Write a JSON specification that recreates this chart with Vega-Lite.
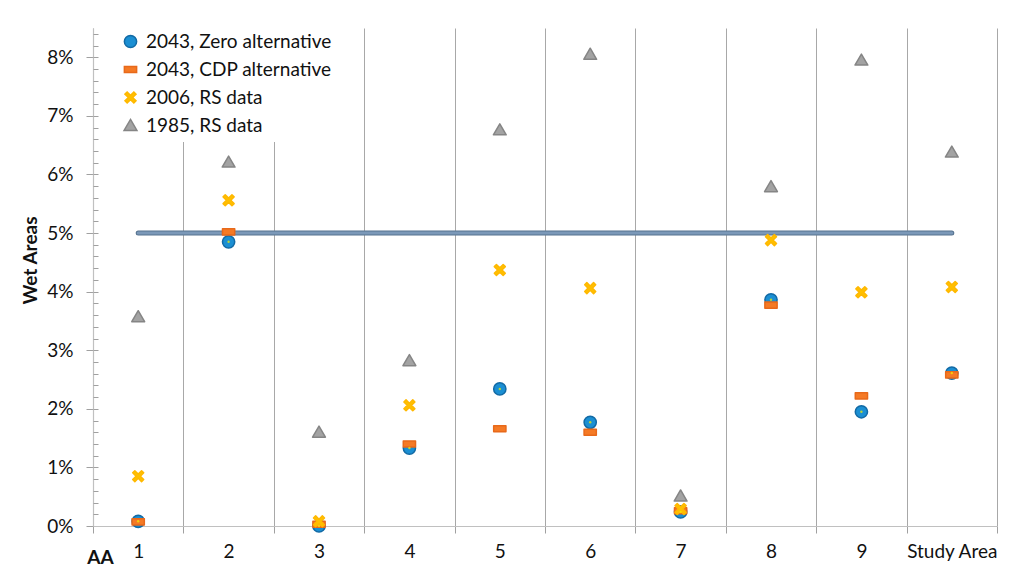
{
  "$schema": "https://vega.github.io/schema/vega-lite/v6.json",
  "width": 904,
  "height": 498,
  "autosize": {"type": "none"},
  "padding": {"left": 93, "top": 28, "right": 27, "bottom": 62},
  "background": "white",
  "config": {
    "font": "Lato",
    "view": {"stroke": null},
    "legend": {"labelFont": "Lato", "labelFontSize": 19, "labelColor": "#111", "labelLimit": 400}
  },
  "resolve": {"axis": {"y": "independent"}},
  "datasets": {
    "points": [
      {"cat": "1", "series": "2043, Zero alternative", "value": 0.0008},
      {"cat": "2", "series": "2043, Zero alternative", "value": 0.0485},
      {"cat": "3", "series": "2043, Zero alternative", "value": 0.0000},
      {"cat": "4", "series": "2043, Zero alternative", "value": 0.0133},
      {"cat": "5", "series": "2043, Zero alternative", "value": 0.0234},
      {"cat": "6", "series": "2043, Zero alternative", "value": 0.0177},
      {"cat": "7", "series": "2043, Zero alternative", "value": 0.0024},
      {"cat": "8", "series": "2043, Zero alternative", "value": 0.0386},
      {"cat": "9", "series": "2043, Zero alternative", "value": 0.0195},
      {"cat": "Study Area", "series": "2043, Zero alternative", "value": 0.0261},
      {"cat": "1", "series": "2043, CDP alternative", "value": 0.0007},
      {"cat": "2", "series": "2043, CDP alternative", "value": 0.0502},
      {"cat": "3", "series": "2043, CDP alternative", "value": 0.0003},
      {"cat": "4", "series": "2043, CDP alternative", "value": 0.0140},
      {"cat": "5", "series": "2043, CDP alternative", "value": 0.0166},
      {"cat": "6", "series": "2043, CDP alternative", "value": 0.0160},
      {"cat": "7", "series": "2043, CDP alternative", "value": 0.0026},
      {"cat": "8", "series": "2043, CDP alternative", "value": 0.0377},
      {"cat": "9", "series": "2043, CDP alternative", "value": 0.0222},
      {"cat": "Study Area", "series": "2043, CDP alternative", "value": 0.0258},
      {"cat": "1", "series": "2006, RS data", "value": 0.0085},
      {"cat": "2", "series": "2006, RS data", "value": 0.0556},
      {"cat": "3", "series": "2006, RS data", "value": 0.0008},
      {"cat": "4", "series": "2006, RS data", "value": 0.0206},
      {"cat": "5", "series": "2006, RS data", "value": 0.0437},
      {"cat": "6", "series": "2006, RS data", "value": 0.0406},
      {"cat": "7", "series": "2006, RS data", "value": 0.0029},
      {"cat": "8", "series": "2006, RS data", "value": 0.0488},
      {"cat": "9", "series": "2006, RS data", "value": 0.0399},
      {"cat": "Study Area", "series": "2006, RS data", "value": 0.0408},
      {"cat": "1", "series": "1985, RS data", "value": 0.0357},
      {"cat": "2", "series": "1985, RS data", "value": 0.0621},
      {"cat": "3", "series": "1985, RS data", "value": 0.0160},
      {"cat": "4", "series": "1985, RS data", "value": 0.0282},
      {"cat": "5", "series": "1985, RS data", "value": 0.0676},
      {"cat": "6", "series": "1985, RS data", "value": 0.0805},
      {"cat": "7", "series": "1985, RS data", "value": 0.0051},
      {"cat": "8", "series": "1985, RS data", "value": 0.0579},
      {"cat": "9", "series": "1985, RS data", "value": 0.0795},
      {"cat": "Study Area", "series": "1985, RS data", "value": 0.0638}
    ],
    "target": [{"from": "1", "to": "Study Area", "value": 0.05}]
  },
  "layer": [
    {
      "data": {"name": "points"},
      "mark": {"type": "point", "opacity": 0},
      "encoding": {
        "x": {
          "field": "cat", "type": "nominal",
          "scale": {"domain": ["1","2","3","4","5","6","7","8","9","Study Area"], "paddingInner": 0, "paddingOuter": 0},
          "axis": {
            "title": "AA", "titleFont": "Lato", "titleFontSize": 19, "titleFontWeight": "bold", "titleColor": "#111",
            "titleX": 7, "titleY": 37, "titleAlign": "center", "titleBaseline": "alphabetic",
            "labelAngle": 0, "labelFontSize": 19, "labelColor": "#111", "labelPadding": 9,
            "tickBand": "extent", "grid": true, "gridColor": "#a8a8a8", "gridWidth": 1,
            "domainColor": "#c0c0c0", "domainWidth": 1.2, "tickColor": "#a0a0a0", "tickSize": 7
          }
        },
        "y": {
          "field": "value", "type": "quantitative",
          "scale": {"domain": [0, 0.085], "nice": false, "zero": true},
          "axis": {
            "orient": "left",
            "title": "Wet Areas", "titleFont": "Lato", "titleFontSize": 19, "titleFontWeight": "bold", "titleColor": "#111",
            "titleAngle": 270, "titleX": -63, "titleY": 232, "titleAlign": "center", "titleBaseline": "middle",
            "values": [0, 0.01, 0.02, 0.03, 0.04, 0.05, 0.06, 0.07, 0.08],
            "format": ".0%",
            "labelOverlap": false, "labelFontSize": 19, "labelColor": "#111", "labelPadding": 13,
            "grid": false, "domainColor": "#c0c0c0", "domainWidth": 1.2, "tickColor": "#a0a0a0",
            "tickSize": 7
          }
        }
      }
    },
    {
      "data": {"name": "points"},
      "mark": {"type": "point", "opacity": 0},
      "encoding": {
        "x": {"field": "cat", "type": "nominal"},
        "y": {
          "field": "value", "type": "quantitative",
          "axis": {
            "orient": "left", "title": null, "labels": false, "domain": false, "grid": false,
            "values": [0.002,0.004,0.006,0.008,0.01,0.012,0.014,0.016,0.018,0.02,0.022,0.024,0.026,0.028,0.03,0.032,0.034,0.036,0.038,0.04,0.042,0.044,0.046,0.048,0.05,0.052,0.054,0.056,0.058,0.06,0.062,0.064,0.066,0.068,0.07,0.072,0.074,0.076,0.078,0.08,0.082,0.084],
            "tickColor": "#a0a0a0", "tickSize": 5, "offset": -5
          }
        }
      }
    },
    {
      "data": {"name": "target"},
      "mark": {"type": "rule", "color": "#56728f", "strokeWidth": 5, "strokeCap": "round"},
      "encoding": {
        "x": {"field": "from", "type": "nominal"},
        "x2": {"field": "to"},
        "y": {"field": "value", "type": "quantitative", "axis": null}
      }
    },
    {
      "data": {"name": "target"},
      "mark": {"type": "rule", "color": "#7b98b8", "strokeWidth": 3, "strokeCap": "round"},
      "encoding": {
        "x": {"field": "from", "type": "nominal"},
        "x2": {"field": "to"},
        "y": {"field": "value", "type": "quantitative", "axis": null}
      }
    },
    {
      "data": {"name": "points"},
      "mark": {"type": "point", "filled": true, "size": 150, "strokeWidth": 1.5, "strokeJoin": "round", "opacity": 1},
      "encoding": {
        "x": {"field": "cat", "type": "nominal"},
        "y": {"field": "value", "type": "quantitative", "axis": null},
        "shape": {
          "field": "series", "type": "nominal", "title": null,
          "scale": {
            "domain": ["2043, Zero alternative", "2043, CDP alternative", "2006, RS data", "1985, RS data"],
            "range": ["circle", "M-1,-0.5L1,-0.5L1,0.5L-1,0.5Z", "M-0.9,-0.55L-0.55,-0.9L0,-0.35L0.55,-0.9L0.9,-0.55L0.35,0L0.9,0.55L0.55,0.9L0,0.35L-0.55,0.9L-0.9,0.55L-0.35,0Z", "M0,-1L1.05,0.8L-1.05,0.8Z"]
          },
          "legend": {"orient": "none", "legendX": 22, "legendY": -2, "padding": 6, "fillColor": "white", "rowPadding": 8, "labelOffset": 6, "symbolSize": 150, "labelLimit": 400}
        },
        "fill": {
          "field": "series", "type": "nominal", "title": null,
          "scale": {
            "domain": ["2043, Zero alternative", "2043, CDP alternative", "2006, RS data", "1985, RS data"],
            "range": ["#1b8fd3", "#f57a25", "#ffc000", "#a3a3a3"]
          }
        },
        "stroke": {
          "field": "series", "type": "nominal", "title": null,
          "scale": {
            "domain": ["2043, Zero alternative", "2043, CDP alternative", "2006, RS data", "1985, RS data"],
            "range": ["#126aa5", "#e8691a", "#ffb800", "#858585"]
          }
        }
      }
    },
    {
      "data": {"name": "points"},
      "transform": [{"filter": "datum.series == '2043, Zero alternative'"}],
      "mark": {"type": "point", "filled": true, "shape": "circle", "size": 6, "color": "#f5f000"},
      "encoding": {
        "x": {"field": "cat", "type": "nominal"},
        "y": {"field": "value", "type": "quantitative", "axis": null}
      }
    }
  ]
}
